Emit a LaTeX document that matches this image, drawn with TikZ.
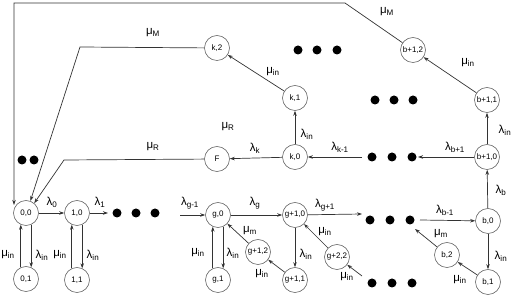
\documentclass[tikz,border=0pt]{standalone}
\usepackage{fontspec}
\setmainfont{Liberation Sans}
\usetikzlibrary{arrows.meta}
\newcommand\sbs[2]{#1\textsubscript{#2}}
\begin{document}
\begin{tikzpicture}[x=1pt,y=-1pt,
 st/.style={circle,draw=black!60,line width=0.6pt,minimum size=25pt,inner sep=0pt,font=\fontsize{8}{9}\selectfont},
 dotc/.style={circle,fill=black,minimum size=9pt,inner sep=0pt},
 edge/.style={draw=black!80,line width=0.7pt,-{Stealth[length=5pt,width=3.5pt]}},
 lab/.style={font=\fontsize{11.5}{13}\selectfont,inner sep=0pt}]
\useasboundingbox (0,0) rectangle (512,296);
% states
\node[st] (n00) at (26,213) {0,0};
\node[st] (n10) at (77,213) {1,0};
\node[st] (n01) at (26,279) {0,1};
\node[st] (n11) at (77,280) {1,1};
\node[st] (g0) at (218,215) {g,0};
\node[st] (g1) at (218,280) {g,1};
\node[st] (gp0) at (295,215) {g+1,0};
\node[st] (g12) at (258,252) {g+1,2};
\node[st] (g11) at (295,280) {g+1,1};
\node[st] (g22) at (337,257) {g+2,2};
\node[st] (b0) at (488,221) {b,0};
\node[st] (b1) at (488,282) {b,1};
\node[st] (b2) at (447,255) {b,2};
\node[st] (bp0) at (487,157) {b+1,0};
\node[st] (bp1) at (487,100) {b+1,1};
\node[st] (bp2) at (413,50) {b+1,2};
\node[st] (k0) at (295,157) {k,0};
\node[st] (k1) at (295,98) {k,1};
\node[st] (k2) at (217,48) {k,2};
\node[st] (F) at (217,159) {F};
% dots
\foreach \n/\x/\y in {a1/117/213,a2/136/213,a3/155/213,
  b1/370/220,b2/390/220,b3/410/220,
  c1/372/283,c2/392/283,c3/412/283,
  d1/372/157,d2/392/157,d3/412/157,
  e1/375/100,e2/394/100,e3/413/100,
  f1/298/50,f2/317/50,f3/337/50,
  h1/22/160,h2/34/160}
  \node[dotc] (dot\n) at (\x,\y) {};
% free ends
\coordinate (ca) at (108,213);
\coordinate (cb) at (180,215);
\coordinate (cc) at (362,214);
\coordinate (cd) at (420,220);
\coordinate (ce) at (415,229);
\coordinate (cf) at (362,276);
\coordinate (cg) at (418,157);
\coordinate (ch) at (362,157);
\coordinate (t1) at (80,47);
\coordinate (t2) at (64,160);
\coordinate (t3) at (345,3);
\coordinate (t4) at (14,3);
\coordinate (t5) at (14,205);
% horizontal chain
\draw[edge] (n00) -- (n10);
\draw[edge] (n10) -- (ca);
\draw[edge] (cb) -- (g0);
\draw[edge] (g0) -- (gp0);
\draw[edge] (gp0) -- (cc);
\draw[edge] (cd) -- (b0);
\draw[edge] (b0) -- (bp0);
\draw[edge] (b0) -- (b1);
\draw[edge] (b1) -- (b2);
\draw[edge] (b2) -- (ce);
\draw[edge] (bp0) -- (bp1);
\draw[edge] (bp1) -- (bp2);
\draw[edge] (bp0) -- (cg);
\draw[edge] (ch) -- (k0);
\draw[edge] (k0) -- (F);
\draw[edge] (k0) -- (k1);
\draw[edge] (k1) -- (k2);
% returns to 0,0
\draw[edge] (k2) -- (t1) -- (n00.70);
\draw[edge] (F) -- (t2) -- (n00.50);
\draw[edge] (bp2) -- (t3) -- (t4) -- (t5);
% vertical pairs
\draw[edge] (n01.114) -- (n00.246);
\draw[edge] (n00.294) -- (n01.66);
\draw[edge] (n11.114) -- (n10.246);
\draw[edge] (n10.294) -- (n11.66);
\draw[edge] (g1.114) -- (g0.246);
\draw[edge] (g0.294) -- (g1.66);
% g block
\draw[edge] (g12) -- (g0);
\draw[edge] (gp0) -- (g11);
\draw[edge] (g11) -- (g12);
\draw[edge] (g22) -- (gp0);
\draw[edge] (cf) -- (g22);
% labels
\node[lab] (l1) at (153,33) {\sbs{μ}{M}};
\node[lab] (l2) at (387,12) {\sbs{μ}{M}};
\node[lab] (l3) at (273,72) {\sbs{μ}{in}};
\node[lab] (l4) at (468,63) {\sbs{μ}{in}};
\node[lab] (l5) at (228,127) {\sbs{μ}{R}};
\node[lab] (l6) at (153,147) {\sbs{μ}{R}};
\node[lab] (l7) at (255,148) {\sbs{λ}{k}};
\node[lab] (l8) at (340,147) {\sbs{λ}{k-1}};
\node[lab] (l9) at (455,147) {\sbs{λ}{b+1}};
\node[lab] (l10) at (307,134) {\sbs{λ}{in}};
\node[lab] (l11) at (505,130) {\sbs{λ}{in}};
\node[lab] (l12) at (501,190) {\sbs{λ}{b}};
\node[lab] (l13) at (52,202) {\sbs{λ}{0}};
\node[lab] (l14) at (100,202) {\sbs{λ}{1}};
\node[lab] (l15) at (190,203) {\sbs{λ}{g-1}};
\node[lab] (l16) at (255,203) {\sbs{λ}{g}};
\node[lab] (l17) at (325,205) {\sbs{λ}{g+1}};
\node[lab] (l18) at (445,210) {\sbs{λ}{b-1}};
\node[lab] (l19) at (8,255) {\sbs{μ}{in}};
\node[lab] (l20) at (42,255) {\sbs{λ}{in}};
\node[lab] (l21) at (60,255) {\sbs{μ}{in}};
\node[lab] (l22) at (93,255) {\sbs{λ}{in}};
\node[lab] (l23) at (198,253) {\sbs{μ}{in}};
\node[lab] (l24) at (233,253) {\sbs{λ}{in}};
\node[lab] (l25) at (250,231) {\sbs{μ}{m}};
\node[lab] (l26) at (306,254) {\sbs{λ}{in}};
\node[lab] (l27) at (262,274) {\sbs{μ}{in}};
\node[lab] (l28) at (325,232) {\sbs{μ}{in}};
\node[lab] (l29) at (347,277) {\sbs{μ}{in}};
\node[lab] (l30) at (441,234) {\sbs{μ}{m}};
\node[lab] (l31) at (501,256) {\sbs{λ}{in}};
\node[lab] (l32) at (460,280) {\sbs{μ}{in}};
\end{tikzpicture}
\end{document}
